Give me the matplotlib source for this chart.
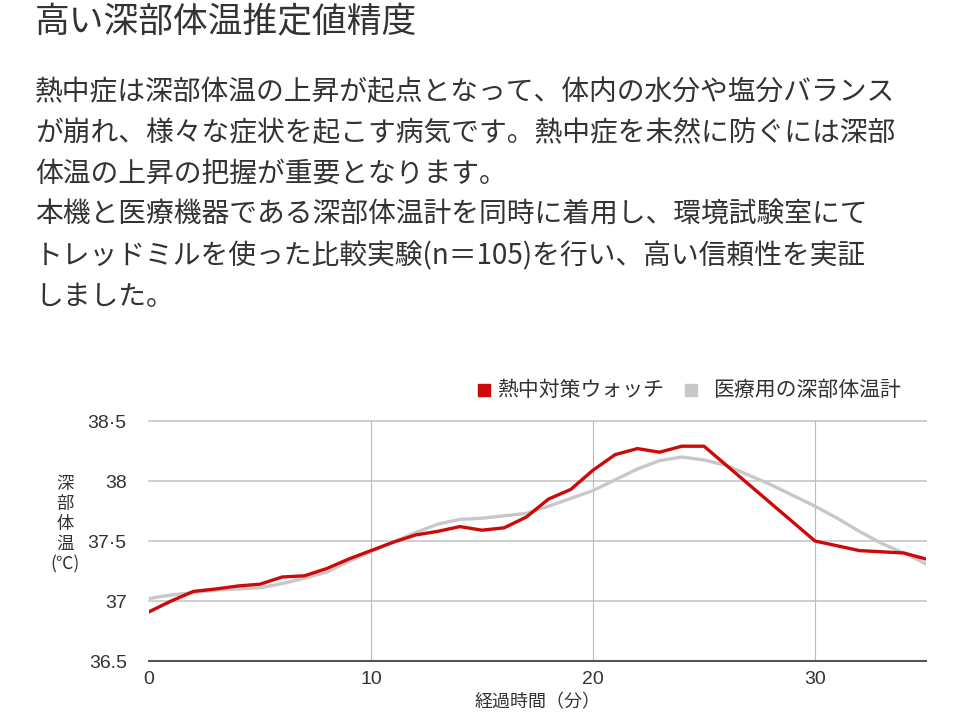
import matplotlib.pyplot as plt

plt.rcParams['font.family'] = ['Noto Sans CJK JP', 'DejaVu Sans']

# data
t_watch = [0, 1, 2, 3, 4, 5, 6, 7, 8, 9, 10, 11, 12, 13, 14, 15, 16, 17, 18, 19,
           20, 21, 22, 23, 24, 25, 30, 31, 32, 33, 34, 35]
watch = [36.91, 37.0, 37.08, 37.1, 37.125, 37.14, 37.2, 37.21, 37.27, 37.35, 37.42,
         37.49, 37.55, 37.58, 37.62, 37.59, 37.61, 37.70, 37.85, 37.93,
         38.09, 38.22, 38.27, 38.24, 38.29, 38.29, 37.50, 37.46, 37.42, 37.41, 37.40, 37.35]

t_med = list(range(0, 36))
medical = [37.02, 37.05, 37.07, 37.09, 37.10, 37.11, 37.145, 37.19, 37.24, 37.33, 37.41,
           37.49, 37.57, 37.64, 37.68, 37.69, 37.71, 37.73, 37.79, 37.855, 37.92,
           38.01, 38.10, 38.17, 38.20, 38.175, 38.13, 38.05, 37.97, 37.88, 37.79,
           37.69, 37.58, 37.48, 37.40, 37.31]

yticks = [36.5, 37, 37.5, 38, 38.5]
ytick_labels = ['36.5', '37', '37·5', '38', '38·5']
xticks = [0, 10, 20, 30]

title = '高い深部体温推定値精度'
body = ['熱中症は深部体温の上昇が起点となって、体内の水分や塩分バランス',
        'が崩れ、様々な症状を起こす病気です。熱中症を未然に防ぐには深部',
        '体温の上昇の把握が重要となります。',
        '本機と医療機器である深部体温計を同時に着用し、環境試験室にて',
        'トレッドミルを使った比較実験(n＝105)を行い、高い信頼性を実証',
        'しました。']

red = '#cc0a0a'
gray = '#c8c8c8'
txt = '#333333'

fig = plt.figure(figsize=(9.6, 7.2), dpi=100)
fig.text(35/960, 1 - 23/720, title, fontsize=25, color=txt, va='center', ha='left')
for i, line in enumerate(body):
    fig.text(35/960, 1 - (92 + i*41)/720, line, fontsize=20, color=txt,
             va='center', ha='left')

ax = fig.add_axes([149/960, 1 - 661/720, (926-149)/960, 240/720])
ax.plot(t_med, medical, color=gray, lw=2.4, zorder=3)
ax.plot(t_watch, watch, color=red, lw=2.4, zorder=4)

ax.set_xlim(0, 35)
ax.set_ylim(36.5, 38.5)
ax.set_yticks(yticks)
ax.set_yticklabels(ytick_labels, family='Liberation Sans')
ax.set_xticks(xticks)
ax.set_xticklabels([str(x) for x in xticks], family='Liberation Sans')
for s in ax.spines.values():
    s.set_visible(False)
ax.axhline(36.5, color='#555555', lw=1.5, zorder=5, clip_on=False)
for y in yticks[1:]:
    ax.axhline(y, color='#cccccc', lw=1.3, zorder=1, clip_on=False)
for x in xticks[1:]:
    ax.axvline(x, color='#bbbbbb', lw=0.8, zorder=1)
ax.tick_params(axis='both', length=0, labelsize=14, labelcolor=txt)
ax.tick_params(axis='y', pad=16)
ax.tick_params(axis='x', pad=7)
ax.set_xlabel('経過時間（分）', fontsize=13, color=txt, labelpad=4)

fig.text(65/960, 1 - 524/720, '深\n部\n体\n温\n(℃)', fontsize=12.5, color=txt,
         ha='center', va='center', linespacing=1.15)

# legend
fig.patches.append(plt.Rectangle((478/960, 1 - 396/720), 12/960, 12/720,
                                 color=red, transform=fig.transFigure))
fig.text(497/960, 1 - 390/720, '熱中対策ウォッチ', fontsize=15, color=txt, va='center')
fig.patches.append(plt.Rectangle((685/960, 1 - 396/720), 12/960, 12/720,
                                 color=gray, transform=fig.transFigure))
fig.text(713/960, 1 - 390/720, '医療用の深部体温計', fontsize=15, color=txt, va='center')

fig.savefig('out.png', dpi=100, facecolor='white')
